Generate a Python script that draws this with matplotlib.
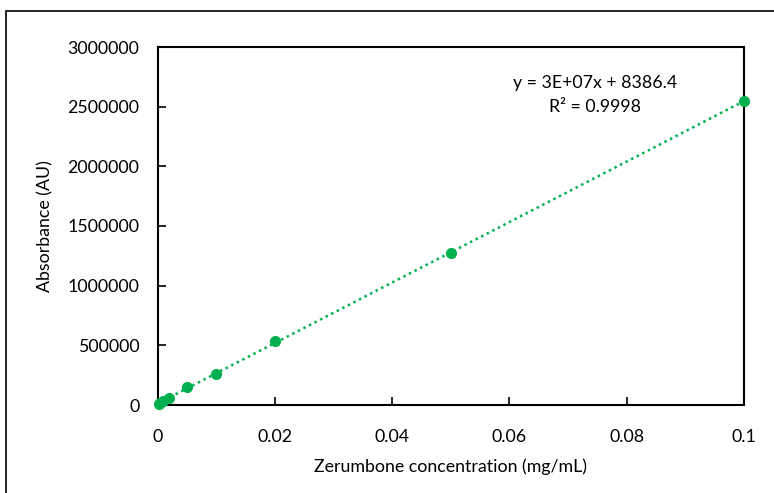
import numpy as np
import matplotlib.pyplot as plt
from matplotlib.patches import Rectangle

# calibration standards
conc = [0.00025, 0.0005, 0.001, 0.002, 0.005, 0.01, 0.02, 0.05, 0.1]
absorb = [6000, 18000, 36000, 62000, 148000, 262000, 540000, 1275000, 2545000]
xticks = [0, 0.02, 0.04, 0.06, 0.08, 0.1]
xtick_labels = ['0', '0.02', '0.04', '0.06', '0.08', '0.1']
yticks = [0, 500000, 1000000, 1500000, 2000000, 2500000, 3000000]

green = '#00B050'
plt.rcParams['font.family'] = ['Lato', 'DejaVu Sans']

fig = plt.figure(figsize=(7.74, 4.93), dpi=100)
ax = fig.add_axes([157.5/774, 1-405/493, (744-157.5)/774, (405-47)/493])

# outer chart border (cropped on right and bottom)
fig.patches.append(Rectangle((6/774, -0.1), 1.2, 1-11/493+0.1, transform=fig.transFigure,
                             fill=False, edgecolor='black', linewidth=1.2))

ax.plot(conc, absorb, 'o', color=green, markersize=7, zorder=3, clip_on=False)

# linear trendline
m, b = np.polyfit(conc, absorb, 1)
xl = np.array([min(conc), max(conc)])
ax.plot(xl, m*xl + b, linestyle=(0, (1, 1.5)), color=green, linewidth=1.8)

ax.text(0.0746, 2598000, 'y = 3E+07x + 8386.4\nR² = 0.9998', ha='center', va='center',
        fontsize=12.8, linespacing=1.6)

ax.set_xlim(0, 0.1)
ax.set_ylim(0, 3000000)
ax.set_xticks(xticks)
ax.set_xticklabels(xtick_labels)
ax.set_yticks(yticks)
ax.set_yticklabels([str(v) for v in yticks])
ax.tick_params(direction='in', length=6, width=1.2, labelsize=12.8)
ax.tick_params(axis='x', pad=17)
ax.tick_params(axis='y', pad=13)
for s in ax.spines.values():
    s.set_linewidth(1.5)

ax.set_xlabel('Zerumbone concentration (mg/mL)', fontsize=12.8, labelpad=10)
ax.set_ylabel('Absorbance (AU)', fontsize=12.8, labelpad=10)

fig.savefig('out.png', dpi=100)
